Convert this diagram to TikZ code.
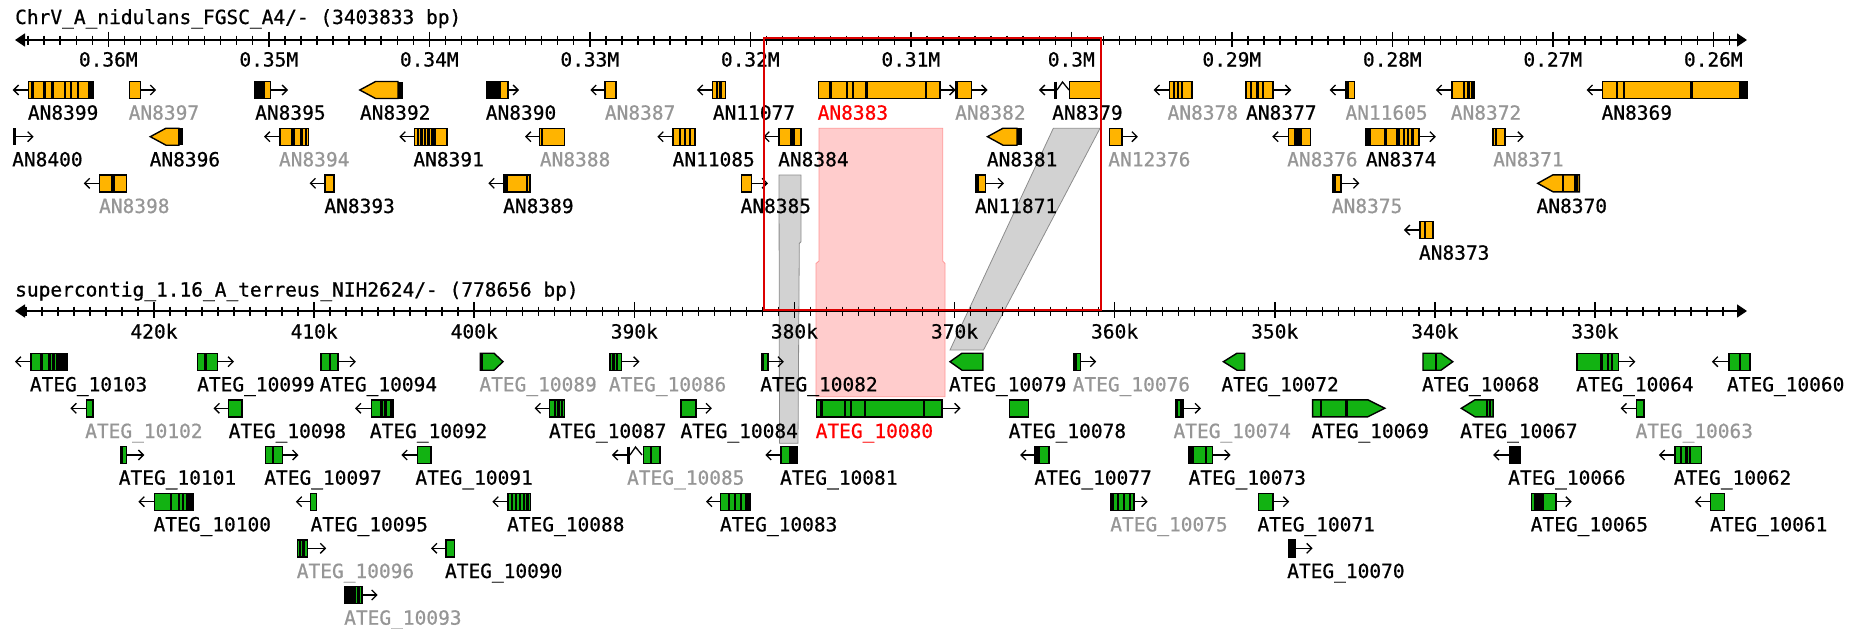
\documentclass[tikz,border=0pt]{standalone}
\usepackage{fontspec}
\newfontfamily\monof[FakeBold=0.7]{DejaVu Sans Mono}
\usetikzlibrary{arrows.meta}
\definecolor{orgc}{RGB}{255,180,0}
\definecolor{grnc}{RGB}{18,178,18}
\definecolor{labgray}{RGB}{150,150,150}
\definecolor{pinkf}{RGB}{255,204,204}
\definecolor{pinkd}{RGB}{255,150,150}
\definecolor{bandf}{RGB}{210,210,210}
\definecolor{bandd}{RGB}{140,140,140}
\definecolor{framered}{RGB}{220,0,0}
\tikzset{
  ob/.style={fill=orgc,draw=black,line width=1.4pt},
  gbx/.style={fill=grnc,draw=black,line width=1.4pt},
  garr/.style={draw=black,line width=1.3pt,-{Straight Barb[length=5pt,width=10pt]}},
  car/.style={draw=black,line width=1.3pt},
  stripe/.style={draw=black,line width=2.4pt},
  lab/.style={anchor=base west,inner sep=0pt,font=\monof\fontsize{19.5}{20}\selectfont,text=black},
  glab/.style={lab,text=labgray},
  rlab/.style={lab,text=red},
  axl/.style={anchor=base,inner sep=0pt,font=\monof\fontsize{19.5}{20}\selectfont},
  axisln/.style={line width=1.8pt,arrows={Triangle[length=10pt,width=13pt]-Triangle[length=10pt,width=13pt]}},
  mint/.style={line width=1.4pt},
  majt/.style={line width=1.6pt},
  pinkband/.style={fill=pinkf,draw=pinkd,line width=0.8pt},
  grayband/.style={fill=bandf,draw=bandd,line width=0.8pt},
  redframe/.style={draw=framered,line width=2pt},
}
\newcommand\Obx[3]{\draw[ob] (#1,#3-8.5) rectangle (#2,#3+8.5);}
\newcommand\Gbx[3]{\draw[gbx] (#1,#3-8.5) rectangle (#2,#3+8.5);}
\newcommand\Arw[3]{\draw[garr] (#1,#3) -- (#2,#3);}
\newcommand\Lnn[2]{\draw[stripe] (#1,#2-8.5) -- (#1,#2+8.5);}
\newcommand\Blk[3]{\fill[black] (#1,#3-8.5) rectangle (#2,#3+8.5);}
\newcommand\PtL[5]{\draw[#5] (#1,#4) -- (#2,#4-8.5) -- (#3,#4-8.5) -- (#3,#4+8.5) -- (#2,#4+8.5) -- cycle;}
\newcommand\PtR[5]{\draw[#5] (#1,#4-8.5) -- (#2,#4-8.5) -- (#3,#4) -- (#2,#4+8.5) -- (#1,#4+8.5) -- cycle;}
\newcommand\Lab[5]{\node[#1] (#2) at (#3,#4+29.7) {#5};}
\def\Ra{90}\def\Rb{136.7}\def\Rc{183.3}\def\Rd{230}
\def\Ba{361.7}\def\Bb{408.3}\def\Bc{455}\def\Bd{501.7}\def\Be{548.3}\def\Bf{595}
\begin{document}
\begin{tikzpicture}[x=1pt,y=-1pt]
\useasboundingbox (0,0) rectangle (1866,629);
% ---- connection bands ----
\draw[pinkband] (819,128.3) -- (942.7,128.3) -- (942.7,261) -- (945,263.5) -- (945,396.7) -- (816,396.7) -- (816,263.5) -- (819,261) -- cycle;
\draw[grayband] (779,175) -- (801,175) -- (801,241.7) -- (799.3,243.5) -- (798,443.3) -- (779.5,443.3) -- cycle;
\draw[grayband] (1053.3,128.3) -- (1100,128.3) -- (983.5,350) -- (950,350) -- cycle;
% ---- titles ----
\node[lab] (ttitle) at (15,24) {ChrV\_A\_nidulans\_FGSC\_A4/- (3403833 bp)};
\node[lab] (btitle) at (15,296.5) {supercontig\_1.16\_A\_terreus\_NIH2624/- (778656 bp)};
% ---- top axis ----
\coordinate (tal) at (15,40);
\coordinate (tar) at (1747,40);
\draw[axisln] (tal) -- (tar);
\foreach \k in {259,...,365} \draw[mint] ({108.3+(360-\k)*16.05},35.5) -- ++(0,9);
\foreach \p/\t in {360/0.36M,350/0.35M,340/0.34M,330/0.33M,320/0.32M,310/0.31M,300/0.3M,290/0.29M,280/0.28M,270/0.27M,260/0.26M}{
  \draw[majt] ({108.3+(360-\p)*16.05},31.5) -- ++(0,15.5);
  \node[axl] (ta\p) at ({108.3+(360-\p)*16.05},66.5) {\t};
}
% ---- bottom axis ----
\coordinate (bal) at (15,311);
\coordinate (bar) at (1747,311);
\draw[axisln] (bal) -- (bar);
\foreach \k in {322,...,428} \draw[mint] ({154+(420-\k)*16.01},306.5) -- ++(0,9);
\foreach \p in {420,410,400,390,380,370,360,350,340,330}{
  \draw[majt] ({154+(420-\p)*16.01},302) -- ++(0,15.5);
  \node[axl] (ba\p) at ({154+(420-\p)*16.01},338.5) {\p k};
}
% ================= top genes (orange) =================
% row 1
\Arw{28.5}{12.7}{\Ra}\Obx{28.5}{93.7}{\Ra}\Lnn{32.4}{\Ra}\Lnn{44.3}{\Ra}\Lnn{52.6}{\Ra}\Lnn{65.2}{\Ra}\Lnn{71.2}{\Ra}\Lnn{77.9}{\Ra}\Blk{88}{93.7}{\Ra}
\Obx{129.7}{140.4}{\Ra}\Arw{140.4}{156.2}{\Ra}
\Obx{255}{270.5}{\Ra}\Blk{255}{265}{\Ra}\Arw{270.5}{288}{\Ra}
\PtL{359.8}{375.6}{398}{\Ra}{ob}\Blk{398}{403.3}{\Ra}
\Obx{486.4}{508.1}{\Ra}\Blk{486.4}{501.4}{\Ra}\Arw{508.1}{519}{\Ra}
\Arw{605}{590.3}{\Ra}\Obx{605}{615.8}{\Ra}
\Arw{712.7}{696.9}{\Ra}\Obx{712.7}{725.7}{\Ra}\Lnn{717}{\Ra}\Lnn{720.5}{\Ra}
\Obx{818.7}{940}{\Ra}\Lnn{830.5}{\Ra}\Lnn{847}{\Ra}\Lnn{853}{\Ra}\Blk{864.5}{867.5}{\Ra}\Lnn{926}{\Ra}\Arw{940}{955.5}{\Ra}
\Obx{955.9}{971.7}{\Ra}\Lnn{957}{\Ra}\Arw{971.7}{987.5}{\Ra}
\Arw{1055}{1038.9}{\Ra}\Lnn{1055.5}{\Ra}\draw[car] (1057,\Ra) -- (1062.5,\Ra-8) -- (1069,\Ra);\Obx{1069.7}{1100.2}{\Ra}
\Arw{1169.4}{1153.6}{\Ra}\Obx{1169.4}{1191.9}{\Ra}\Lnn{1174}{\Ra}\Lnn{1178}{\Ra}\Lnn{1182}{\Ra}
\Obx{1245.9}{1273}{\Ra}\Lnn{1251}{\Ra}\Lnn{1257.3}{\Ra}\Lnn{1262.9}{\Ra}\Arw{1273}{1291.3}{\Ra}
\Arw{1345.7}{1329.6}{\Ra}\Obx{1345.7}{1354.6}{\Ra}\Blk{1345.7}{1348.5}{\Ra}
\Arw{1451.9}{1435.8}{\Ra}\Obx{1451.9}{1474}{\Ra}\Lnn{1464}{\Ra}\Lnn{1468.5}{\Ra}\Lnn{1472}{\Ra}
\Arw{1602.7}{1586.6}{\Ra}\Obx{1602.7}{1747}{\Ra}\Lnn{1617.2}{\Ra}\Lnn{1623.9}{\Ra}\Lnn{1691.6}{\Ra}\Blk{1738.7}{1747}{\Ra}
% row 2
\Blk{12.5}{16}{\Rb}\Arw{16}{33.6}{\Rb}
\PtL{150.3}{166}{178.8}{\Rb}{ob}\Blk{178.8}{182.7}{\Rb}
\Arw{280}{264}{\Rb}\Obx{280}{308.4}{\Rb}\Blk{290.6}{294.6}{\Rb}\Blk{299.7}{302.5}{\Rb}\Lnn{306}{\Rb}
\Arw{414.4}{399.4}{\Rb}\Obx{414.4}{446.8}{\Rb}\Lnn{418}{\Rb}\Lnn{421.5}{\Rb}\Lnn{425}{\Rb}\Lnn{428.5}{\Rb}\Blk{431}{436}{\Rb}
\Arw{539.7}{525}{\Rb}\Obx{539.7}{564.6}{\Rb}\Lnn{542}{\Rb}
\Arw{673}{657.3}{\Rb}\Obx{673}{694.9}{\Rb}\Lnn{680}{\Rb}\Lnn{685}{\Rb}\Lnn{690}{\Rb}
\Arw{779}{763.3}{\Rb}\Obx{779}{800.9}{\Rb}\Blk{790}{795}{\Rb}
\PtL{987.5}{1003}{1017}{\Rb}{ob}\Blk{1017}{1022.3}{\Rb}
\Obx{1109.3}{1121.9}{\Rb}\Arw{1121.9}{1137.8}{\Rb}
\Arw{1288.4}{1272.2}{\Rb}\Obx{1288.4}{1310.5}{\Rb}\Blk{1294}{1302}{\Rb}
\Obx{1365.7}{1418.8}{\Rb}\Blk{1365.7}{1370.8}{\Rb}\Blk{1383.5}{1386.9}{\Rb}\Blk{1396.3}{1399.7}{\Rb}\Lnn{1403.9}{\Rb}\Lnn{1408.2}{\Rb}\Lnn{1412.4}{\Rb}\Arw{1418.8}{1435.8}{\Rb}
\Obx{1493}{1505}{\Rb}\Lnn{1496}{\Rb}\Arw{1505}{1523.7}{\Rb}
% row 3
\Arw{99.6}{83.8}{\Rc}\Obx{99.6}{126.5}{\Rc}\Blk{111}{114.7}{\Rc}
\Arw{325}{309.6}{\Rc}\Obx{325}{334}{\Rc}
\Arw{504}{488.3}{\Rc}\Obx{504}{530}{\Rc}\Lnn{506.5}{\Rc}\Lnn{527}{\Rc}
\Obx{741.2}{751.4}{\Rc}\Arw{751.4}{768}{\Rc}
\Obx{975.6}{985.5}{\Rc}\Blk{975.6}{978.5}{\Rc}\Arw{985.5}{1004}{\Rc}
\Obx{1332.5}{1341}{\Rc}\Lnn{1334.5}{\Rc}\Arw{1341}{1359.3}{\Rc}
\PtL{1537.7}{1553}{1579.4}{\Rc}{ob}\Lnn{1563.2}{\Rc}\Blk{1574}{1577.5}{\Rc}
% row 4
\Arw{1420}{1403.9}{\Rd}\Obx{1420}{1432.8}{\Rd}\Lnn{1425}{\Rd}
% top labels
\Lab{lab}{n8399}{27.7}{\Ra}{AN8399}
\Lab{glab}{n8397}{128.5}{\Ra}{AN8397}
\Lab{lab}{n8395}{255}{\Ra}{AN8395}
\Lab{lab}{n8392}{359.8}{\Ra}{AN8392}
\Lab{lab}{n8390}{485.6}{\Ra}{AN8390}
\Lab{glab}{n8387}{604.7}{\Ra}{AN8387}
\Lab{lab}{n11077}{712.7}{\Ra}{AN11077}
\Lab{rlab}{n8383}{817.5}{\Ra}{AN8383}
\Lab{glab}{n8382}{955}{\Ra}{AN8382}
\Lab{lab}{n8379}{1052}{\Ra}{AN8379}
\Lab{glab}{n8378}{1167.4}{\Ra}{AN8378}
\Lab{lab}{n8377}{1245.9}{\Ra}{AN8377}
\Lab{glab}{n11605}{1345.3}{\Ra}{AN11605}
\Lab{glab}{n8372}{1450.6}{\Ra}{AN8372}
\Lab{lab}{n8369}{1601.4}{\Ra}{AN8369}
\Lab{lab}{n8400}{12}{\Rb}{AN8400}
\Lab{lab}{n8396}{149.5}{\Rb}{AN8396}
\Lab{glab}{n8394}{278.8}{\Rb}{AN8394}
\Lab{lab}{n8391}{413.2}{\Rb}{AN8391}
\Lab{glab}{n8388}{539.7}{\Rb}{AN8388}
\Lab{lab}{n11085}{672.4}{\Rb}{AN11085}
\Lab{lab}{n8384}{778}{\Rb}{AN8384}
\Lab{lab}{n8381}{986.7}{\Rb}{AN8381}
\Lab{glab}{n12376}{1108.1}{\Rb}{AN12376}
\Lab{glab}{n8376}{1287}{\Rb}{AN8376}
\Lab{lab}{n8374}{1365.7}{\Rb}{AN8374}
\Lab{glab}{n8371}{1493}{\Rb}{AN8371}
\Lab{glab}{n8398}{98.9}{\Rc}{AN8398}
\Lab{lab}{n8393}{324.2}{\Rc}{AN8393}
\Lab{lab}{n8389}{503}{\Rc}{AN8389}
\Lab{lab}{n8385}{740.4}{\Rc}{AN8385}
\Lab{lab}{n11871}{974.8}{\Rc}{AN11871}
\Lab{glab}{n8375}{1331.7}{\Rc}{AN8375}
\Lab{lab}{n8370}{1536.4}{\Rc}{AN8370}
\Lab{lab}{n8373}{1418.8}{\Rd}{AN8373}
% ================= bottom genes (green) =================
% row 1
\Arw{30.8}{15}{\Ba}\Gbx{30.8}{67.2}{\Ba}\Lnn{41.5}{\Ba}\Lnn{49.4}{\Ba}\Lnn{53.4}{\Ba}\Blk{56}{67.2}{\Ba}
\Gbx{197.7}{217.5}{\Ba}\Lnn{205.6}{\Ba}\Arw{217.5}{234}{\Ba}
\Gbx{321}{338}{\Ba}\Lnn{330}{\Ba}\Arw{338}{355.9}{\Ba}
\PtR{480.4}{494}{503}{\Ba}{gbx}\Lnn{481.5}{\Ba}
\Gbx{609.9}{621.7}{\Ba}\Lnn{613.5}{\Ba}\Lnn{617}{\Ba}\Arw{621.7}{639.5}{\Ba}
\Gbx{761.3}{768}{\Ba}\Lnn{762.5}{\Ba}\Arw{768}{783.9}{\Ba}
\PtL{950}{962}{982.8}{\Ba}{gbx}
\Gbx{1073.7}{1080.4}{\Ba}\Lnn{1075.5}{\Ba}\Arw{1080.4}{1096.2}{\Ba}
\PtL{1223.4}{1237}{1244.6}{\Ba}{gbx}
\PtR{1423}{1441}{1452.8}{\Ba}{gbx}\Lnn{1435.8}{\Ba}
\Gbx{1576.8}{1618.4}{\Ba}\Lnn{1601.4}{\Ba}\Lnn{1607.7}{\Ba}\Lnn{1612}{\Ba}\Arw{1618.4}{1635.4}{\Ba}
\Arw{1728.9}{1711.9}{\Ba}\Gbx{1728.9}{1750}{\Ba}\Lnn{1739.7}{\Ba}
% row 2
\Arw{86.2}{70.4}{\Bb}\Gbx{86.2}{92.9}{\Bb}
\Arw{228.5}{213.5}{\Bb}\Gbx{228.5}{242}{\Bb}
\Arw{371.7}{355}{\Bb}\Gbx{371.7}{393.4}{\Bb}\Lnn{381.6}{\Bb}\Lnn{385.5}{\Bb}\Blk{389.5}{393.4}{\Bb}
\Arw{549.6}{534.6}{\Bb}\Gbx{549.6}{564.6}{\Bb}\Lnn{555}{\Bb}\Lnn{558.5}{\Bb}\Lnn{562}{\Bb}
\Gbx{681}{696}{\Bb}\Arw{696}{711.9}{\Bb}
\Gbx{816.7}{942}{\Bb}\Lnn{821.4}{\Bb}\Lnn{845.2}{\Bb}\Lnn{851.1}{\Bb}\Lnn{864.9}{\Bb}\Lnn{924.2}{\Bb}\Arw{942}{960.6}{\Bb}
\Gbx{1009.2}{1028.2}{\Bb}
\Gbx{1175.3}{1183}{\Bb}\Lnn{1177}{\Bb}\Lnn{1180.8}{\Bb}\Arw{1183}{1201}{\Bb}
\PtR{1312.6}{1367.8}{1384.8}{\Bb}{gbx}\Lnn{1321}{\Bb}\Lnn{1346.6}{\Bb}
\PtL{1461.3}{1475}{1493.1}{\Bb}{gbx}\Lnn{1486.8}{\Bb}\Lnn{1490}{\Bb}
\Arw{1636.7}{1620.6}{\Bb}\Gbx{1636.7}{1643.9}{\Bb}
% row 3
\Gbx{120.6}{126.5}{\Bc}\Lnn{122}{\Bc}\Arw{126.5}{144.3}{\Bc}
\Gbx{265.7}{282.7}{\Bc}\Lnn{273}{\Bc}\Arw{282.7}{298.5}{\Bc}
\Arw{417.2}{401.3}{\Bc}\Gbx{417.2}{431}{\Bc}
\Arw{628}{611.9}{\Bc}\Lnn{628.6}{\Bc}\draw[car] (630,\Bc) -- (635.5,\Bc-8) -- (642,\Bc);\Gbx{643.5}{660}{\Bc}\Lnn{651}{\Bc}
\Arw{781.1}{765.3}{\Bc}\Gbx{781.1}{797.7}{\Bc}\Blk{789}{797.7}{\Bc}
\Arw{1035}{1020}{\Bc}\Gbx{1035}{1048.8}{\Bc}\Blk{1035}{1040}{\Bc}
\Gbx{1188.4}{1212.7}{\Bc}\Blk{1188.4}{1194}{\Bc}\Lnn{1206}{\Bc}\Arw{1212.7}{1230.6}{\Bc}
\Arw{1509.3}{1493.1}{\Bc}\Gbx{1509.3}{1520.7}{\Bc}\Blk{1509.3}{1520.7}{\Bc}
\Arw{1675}{1658.8}{\Bc}\Gbx{1675}{1701.3}{\Bc}\Lnn{1681}{\Bc}\Lnn{1686.5}{\Bc}\Lnn{1690}{\Bc}
% row 4
\Arw{154.2}{138.4}{\Bd}\Gbx{154.2}{193.7}{\Bd}\Lnn{170.8}{\Bd}\Lnn{178.7}{\Bd}\Lnn{182.7}{\Bd}\Blk{186}{193.7}{\Bd}
\Arw{310.4}{295.8}{\Bd}\Gbx{310.4}{316.3}{\Bd}
\Arw{508}{492.3}{\Bd}\Gbx{508}{530.6}{\Bd}\Lnn{512}{\Bd}\Lnn{516}{\Bd}\Lnn{520}{\Bd}\Lnn{524}{\Bd}\Lnn{527.5}{\Bd}
\Arw{720.6}{706}{\Bd}\Gbx{720.6}{750.3}{\Bd}\Lnn{729}{\Bd}\Lnn{735}{\Bd}\Lnn{741}{\Bd}\Blk{745}{750.3}{\Bd}
\Gbx{1110.9}{1133.8}{\Bd}\Lnn{1112.5}{\Bd}\Lnn{1118}{\Bd}\Lnn{1124}{\Bd}\Lnn{1130}{\Bd}\Arw{1133.8}{1147.6}{\Bd}
\Gbx{1258.6}{1273}{\Bd}\Arw{1273}{1289.2}{\Bd}
\Gbx{1531.4}{1556}{\Bd}\Blk{1533.5}{1544}{\Bd}\Arw{1556}{1571.7}{\Bd}
\Arw{1710.6}{1694.9}{\Bd}\Gbx{1710.6}{1724.6}{\Bd}
% row 5
\Gbx{297.3}{307.6}{\Be}\Lnn{300}{\Be}\Lnn{303.5}{\Be}\Arw{307.6}{326.2}{\Be}
\Arw{446}{431}{\Be}\Gbx{446}{454.7}{\Be}
\Gbx{1288.4}{1295.6}{\Be}\Blk{1288.4}{1295.6}{\Be}\Arw{1295.6}{1312.6}{\Be}
% row 6
\Gbx{344.8}{361.8}{\Bf}\Blk{344.8}{355.8}{\Bf}\Lnn{358.5}{\Bf}\Arw{361.8}{377.6}{\Bf}
% bottom labels
\Lab{lab}{a10103}{29.7}{\Ba}{ATEG\_10103}
\Lab{lab}{a10099}{197}{\Ba}{ATEG\_10099}
\Lab{lab}{a10094}{319.5}{\Ba}{ATEG\_10094}
\Lab{glab}{a10089}{479.2}{\Ba}{ATEG\_10089}
\Lab{glab}{a10086}{608.7}{\Ba}{ATEG\_10086}
\Lab{lab}{a10082}{760.1}{\Ba}{ATEG\_10082}
\Lab{lab}{a10079}{948.8}{\Ba}{ATEG\_10079}
\Lab{glab}{a10076}{1072.5}{\Ba}{ATEG\_10076}
\Lab{lab}{a10072}{1221.2}{\Ba}{ATEG\_10072}
\Lab{lab}{a10068}{1421.8}{\Ba}{ATEG\_10068}
\Lab{lab}{a10064}{1576}{\Ba}{ATEG\_10064}
\Lab{lab}{a10060}{1726.8}{\Ba}{ATEG\_10060}
\Lab{glab}{a10102}{85}{\Bb}{ATEG\_10102}
\Lab{lab}{a10098}{228.5}{\Bb}{ATEG\_10098}
\Lab{lab}{a10092}{369.7}{\Bb}{ATEG\_10092}
\Lab{lab}{a10087}{548.8}{\Bb}{ATEG\_10087}
\Lab{lab}{a10084}{680.3}{\Bb}{ATEG\_10084}
\Lab{rlab}{a10080}{815.5}{\Bb}{ATEG\_10080}
\Lab{lab}{a10078}{1008.5}{\Bb}{ATEG\_10078}
\Lab{glab}{a10074}{1173.3}{\Bb}{ATEG\_10074}
\Lab{lab}{a10069}{1311.3}{\Bb}{ATEG\_10069}
\Lab{lab}{a10067}{1460}{\Bb}{ATEG\_10067}
\Lab{glab}{a10063}{1635.4}{\Bb}{ATEG\_10063}
\Lab{lab}{a10101}{118.6}{\Bc}{ATEG\_10101}
\Lab{lab}{a10097}{264.1}{\Bc}{ATEG\_10097}
\Lab{lab}{a10091}{415.2}{\Bc}{ATEG\_10091}
\Lab{glab}{a10085}{626.9}{\Bc}{ATEG\_10085}
\Lab{lab}{a10081}{779.9}{\Bc}{ATEG\_10081}
\Lab{lab}{a10077}{1034.2}{\Bc}{ATEG\_10077}
\Lab{lab}{a10073}{1188.4}{\Bc}{ATEG\_10073}
\Lab{lab}{a10066}{1508}{\Bc}{ATEG\_10066}
\Lab{lab}{a10062}{1673.7}{\Bc}{ATEG\_10062}
\Lab{lab}{a10100}{153.4}{\Bd}{ATEG\_10100}
\Lab{lab}{a10095}{310.4}{\Bd}{ATEG\_10095}
\Lab{lab}{a10088}{506.9}{\Bd}{ATEG\_10088}
\Lab{lab}{a10083}{719.8}{\Bd}{ATEG\_10083}
\Lab{glab}{a10075}{1110.1}{\Bd}{ATEG\_10075}
\Lab{lab}{a10071}{1257.3}{\Bd}{ATEG\_10071}
\Lab{lab}{a10065}{1530.5}{\Bd}{ATEG\_10065}
\Lab{lab}{a10061}{1709.8}{\Bd}{ATEG\_10061}
\Lab{glab}{a10096}{296.6}{\Be}{ATEG\_10096}
\Lab{lab}{a10090}{444.8}{\Be}{ATEG\_10090}
\Lab{lab}{a10070}{1287}{\Be}{ATEG\_10070}
\Lab{glab}{a10093}{344}{\Bf}{ATEG\_10093}
% ---- selection frame ----
\draw[redframe] (764.3,37.7) rectangle (1101,310);
\end{tikzpicture}
\end{document}
